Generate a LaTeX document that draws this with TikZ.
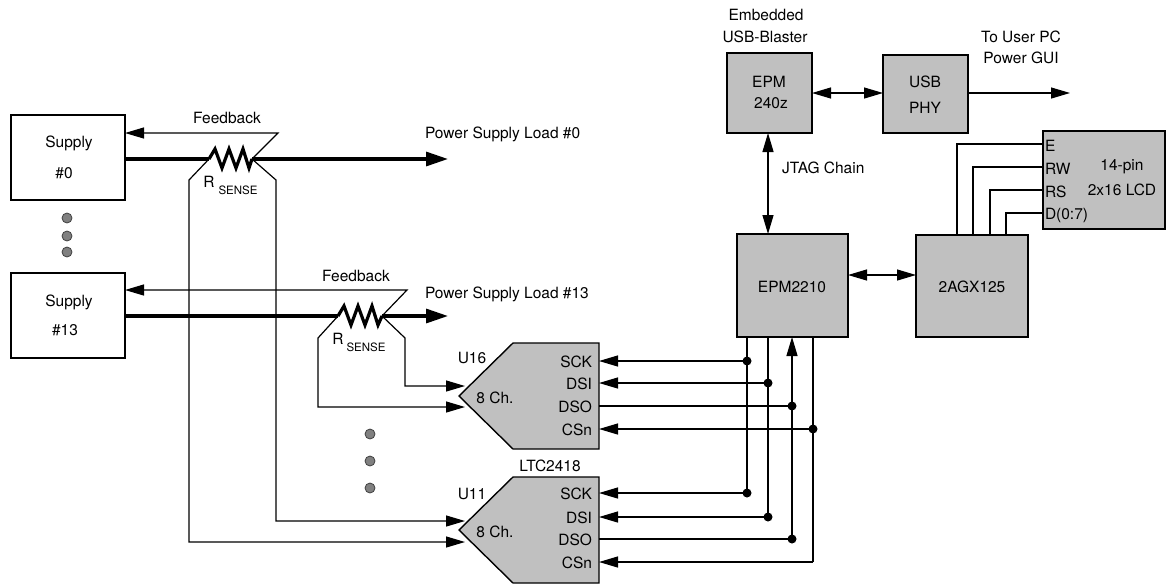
\documentclass[tikz,border=0pt]{standalone}
\usepackage{fontspec}
\setmainfont{TeX Gyre Heros}
\usetikzlibrary{arrows.meta}
\definecolor{boxgray}{RGB}{192,192,192}
\definecolor{dotgray}{RGB}{128,128,128}
\begin{document}
\begin{tikzpicture}[x=1pt,y=-1pt,
  every node/.style={font=\fontsize{15.5}{18}\selectfont, inner sep=0pt, outer sep=0pt},
  blk/.style={draw, line width=1.4pt, fill=boxgray},
  wbox/.style={draw, line width=1.4pt, fill=white},
  wire/.style={line width=1.2pt},
  pwr/.style={line width=3.2pt},
  tip/.style={-{Triangle[length=19pt,width=11pt]}},
  tipb/.style={{Triangle[length=19pt,width=11pt]}-{Triangle[length=19pt,width=11pt]}},
  ptip/.style={-{Triangle[length=22pt,width=14pt]}},
  jdot/.style={circle, fill=black, minimum size=9pt},
  gdot/.style={circle, fill=dotgray, draw=black!75, line width=0.8pt, minimum size=10pt},
  sub/.style={font=\fontsize{11.5}{12}\selectfont},
  pin/.style={anchor=east},
  lpin/.style={anchor=west}
]
\useasboundingbox (0,0) rectangle (1166,584);

% ---------------- Supplies ----------------
\node[wbox, anchor=north west, minimum width=114pt, minimum height=85pt] (s0) at (11,115) {};
\node at (69,143) {Supply};
\node at (64,173) {\#0};
\node[wbox, anchor=north west, minimum width=114pt, minimum height=85pt] (s13) at (11,273) {};
\node at (69,302) {Supply};
\node at (65,330) {\#13};

\node[gdot] (d1) at (67,218) {};
\node[gdot] (d2) at (67,236) {};
\node[gdot] (d3) at (67,252) {};

% ---------------- Resistor #0 ----------------
\coordinate (r0a) at (209,159);
\coordinate (r0b) at (252,159);
\coordinate (fb0) at (278,133);
\coordinate (l0a) at (189,180);
\coordinate (l0b) at (276,180);
\coordinate (load0) at (448,159);
\draw[pwr] (s0.east |- r0a) -- (r0a);
\draw[pwr, line join=miter] (r0a) -- (215,149) -- (222,168) -- (229,149) -- (236,168) -- (243,149) -- (249,168) -- (r0b);
\draw[pwr, ptip] (r0b) -- (load0);
\draw[wire, tip] (r0b) -- (fb0) -- (s0.east |- fb0);
\node at (227,118) {Feedback};
\node[anchor=west] at (425,134) {Power Supply Load \#0};
\node at (209,182) {R};
\node[sub] at (238,190) {SENSE};

% ---------------- Resistor #13 ----------------
\coordinate (r1a) at (338,316);
\coordinate (r1b) at (382,316);
\coordinate (fb1) at (407,290);
\coordinate (l1a) at (318,338);
\coordinate (l1b) at (405,338);
\coordinate (load1) at (448,316);
\draw[pwr] (s13.east |- r1a) -- (r1a);
\draw[pwr, line join=miter] (r1a) -- (344,306) -- (351,325) -- (358,306) -- (365,325) -- (372,306) -- (378,325) -- (r1b);
\draw[pwr, ptip] (r1b) -- (load1);
\draw[wire, tip] (r1b) -- (fb1) -- (s13.east |- fb1);
\node at (356,276) {Feedback};
\node[anchor=west] at (425,294) {Power Supply Load \#13};
\node at (338,339) {R};
\node[sub] at (366,347) {SENSE};

% ---------------- ADCs ----------------
\draw[blk] (459,396) -- (513,343) -- (599,343) -- (599,449) -- (513,449) -- cycle;
\coordinate (u16in1) at (465,386);
\coordinate (u16in2) at (465,407);
\coordinate (u16sck) at (599,361);
\coordinate (u16dsi) at (599,383);
\coordinate (u16dso) at (599,406);
\coordinate (u16csn) at (599,429);
\node at (472,358) {U16};
\node at (495,398) {8 Ch.};
\node[pin] at (592,362) {SCK};
\node[pin] at (592,384) {DSI};
\node[pin] at (592,407) {DSO};
\node[pin] at (592,430) {CSn};

\draw[blk] (459,530) -- (513,477) -- (599,477) -- (599,583) -- (513,583) -- cycle;
\coordinate (u11in1) at (465,521);
\coordinate (u11in2) at (465,542);
\coordinate (u11sck) at (599,493);
\coordinate (u11dsi) at (599,517);
\coordinate (u11dso) at (599,539);
\coordinate (u11csn) at (599,562);
\node at (550,466) {LTC2418};
\node at (472,494) {U11};
\node at (495,532) {8 Ch.};
\node[pin] at (592,494) {SCK};
\node[pin] at (592,518) {DSI};
\node[pin] at (592,540) {DSO};
\node[pin] at (592,563) {CSn};

% sense wires
\draw[wire, tip] (r0a) -- (l0a) -- (l0a |- u11in2) -- (u11in2);
\draw[wire, tip] (r0b) -- (l0b) -- (l0b |- u11in1) -- (u11in1);
\draw[wire, tip] (r1a) -- (l1a) -- (l1a |- u16in2) -- (u16in2);
\draw[wire, tip] (r1b) -- (l1b) -- (l1b |- u16in1) -- (u16in1);

\node[gdot] (m1) at (370,434) {};
\node[gdot] (m2) at (370,461) {};
\node[gdot] (m3) at (370,488) {};

% ---------------- CPLDs / FPGA ----------------
\node[blk, anchor=north west, minimum width=111pt, minimum height=103pt] (epm2210) at (737,234) {};
\node at (792,287) {EPM2210};
\node[blk, anchor=north west, minimum width=112pt, minimum height=102pt] (agx) at (916,235) {};
\node at (972,287) {2AGX125};
\node[blk, anchor=north west, minimum width=85pt, minimum height=80pt] (epm240) at (727,53) {};
\node at (769,82) {EPM};
\node at (771,103) {240z};
\node[blk, anchor=north west, minimum width=85pt, minimum height=78pt] (usbphy) at (883,55) {};
\node at (925,82) {USB};
\node at (925,108) {PHY};
\node at (766,15) {Embedded};
\node at (765,37) {USB-Blaster};
\node at (1021,37) {To User PC};
\node at (1021,58) {Power GUI};
\node[anchor=west] at (782,168) {JTAG Chain};

\coordinate (pcout) at (1070,93);
\draw[wire, tipb] (epm240.east |- pcout) -- (usbphy.west |- pcout);
\draw[wire, tip] (usbphy.east |- pcout) -- (pcout);
\coordinate (jt) at (768,0);
\draw[wire, tipb] (epm240.south -| jt) -- (epm2210.north -| jt);
\coordinate (ag) at (0,275);
\draw[wire, tipb] (epm2210.east |- ag) -- (agx.west |- ag);

% ---------------- LCD ----------------
\node[blk, anchor=north west, minimum width=122pt, minimum height=98pt] (lcd) at (1043,131) {};
\node[lpin] at (1045,146) {E};
\node[lpin] at (1045,169) {RW};
\node[lpin] at (1045,192) {RS};
\node[lpin] at (1045,215) {D(0:7)};
\node at (1122,167) {14-pin};
\node at (1122,190) {2x16 LCD};
\coordinate (le) at (957,144);
\coordinate (lrw) at (973,167);
\coordinate (lrs) at (990,190);
\coordinate (ld) at (1006,213);
\draw[wire] (lcd.west |- le) -- (le) -- (le |- agx.north);
\draw[wire] (lcd.west |- lrw) -- (lrw) -- (lrw |- agx.north);
\draw[wire] (lcd.west |- lrs) -- (lrs) -- (lrs |- agx.north);
\draw[wire] (lcd.west |- ld) -- (ld) -- (ld |- agx.north);

% ---------------- Bus ----------------
\node[jdot] (j1) at (747,361) {};
\node[jdot] (j2) at (768,383) {};
\node[jdot] (j3) at (792,406) {};
\node[jdot] (j4) at (813,429) {};
\node[jdot] (k1) at (747,493) {};
\node[jdot] (k2) at (768,517) {};
\node[jdot] (k3) at (792,539) {};
\coordinate (k4) at (813,562);

\draw[wire] (epm2210.south -| k1) -- (k1.center);
\draw[wire] (epm2210.south -| k2) -- (k2.center);
\draw[wire, tip] (k3.center) -- (epm2210.south -| k3);
\draw[wire] (epm2210.south -| k4) -- (k4);

\draw[wire, tip] (j1.center) -- (u16sck);
\draw[wire, tip] (j2.center) -- (u16dsi);
\draw[wire] (u16dso) -- (j3.center);
\draw[wire, tip] (j4.center) -- (u16csn);
\draw[wire, tip] (k1.center) -- (u11sck);
\draw[wire, tip] (k2.center) -- (u11dsi);
\draw[wire] (u11dso) -- (k3.center);
\draw[wire, tip] (k4) -- (u11csn);
\end{tikzpicture}
\end{document}
